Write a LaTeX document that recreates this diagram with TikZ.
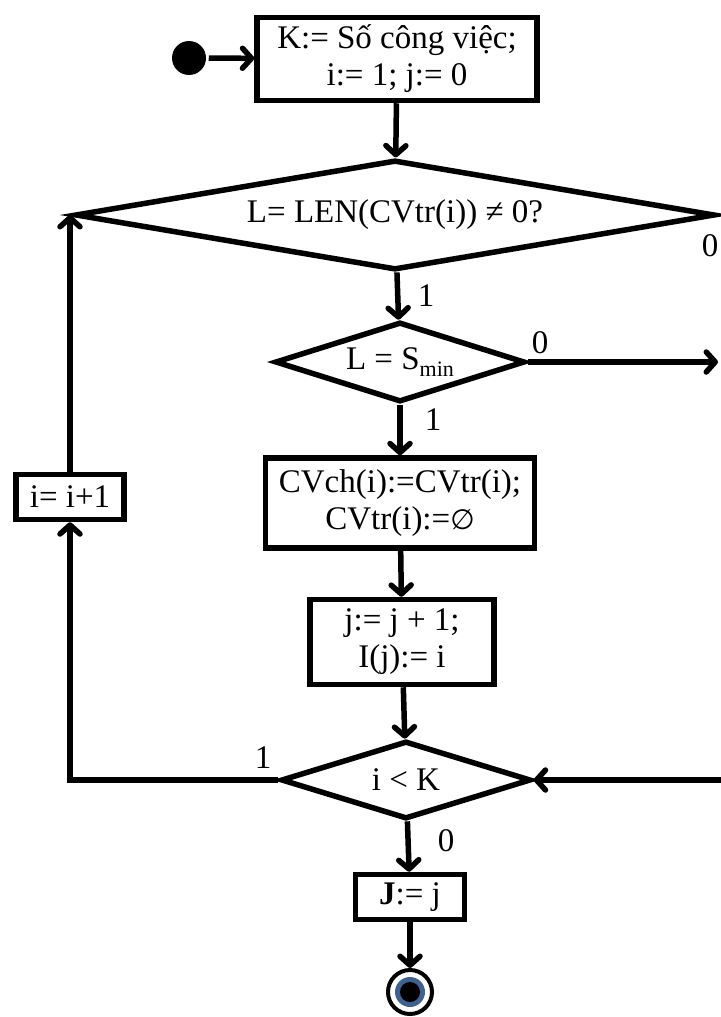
\documentclass[tikz,border=0pt]{standalone}
\usepackage{fontspec}
\setmainfont{Liberation Serif}
\newfontfamily\symfont{DejaVu Sans}
\usetikzlibrary{shapes.geometric,arrows.meta}
\definecolor{endblue}{RGB}{62,96,146}
\begin{document}
\begin{tikzpicture}[
  x=1pt, y=-1pt,
  line width=5.5pt,
  >={Straight Barb[round,length=9pt,width=20pt]},
  every node/.style={font=\fontsize{33}{37}\selectfont},
  box/.style={draw, align=center, inner sep=0pt},
  cond/.style={draw, diamond, inner sep=0pt},
  lbl/.style={inner sep=0pt}
]
\useasboundingbox (0,0) rectangle (720,1017);
\node[circle, fill, minimum size=34pt, inner sep=0pt] (start) at (189,58) {};
\node[box, minimum width=280pt, minimum height=83pt] (init) at (397,59) {K:= Số công việc;\\i:= 1; j:= 0};
\node[cond, aspect=5.8, minimum width=640pt, minimum height=110pt] (len) at (395,215) {L= LEN(CVtr(i)) ≠ 0?};
\node[cond, aspect=3.1, minimum width=250pt, minimum height=80pt] (smin) at (400,362) {L = S\raisebox{-7pt}{\fontsize{22}{22}\selectfont min}};
\node[box, minimum width=269pt, minimum height=90pt] (move) at (400,503) {CVch(i):=CVtr(i);\\CVtr(i):={\symfont\fontsize{28}{37}\selectfont ∅}};
\node[box, minimum width=184pt, minimum height=85pt] (inc) at (402,642) {j:= j + 1;\\I(j):= i};
\node[cond, aspect=3.2, minimum width=250pt, minimum height=78pt] (less) at (406,780) {i < K};
\node[box, minimum width=109pt, minimum height=45pt] (res) at (410,897) {\textbf{J}:= j};
\node[box, minimum width=108pt, minimum height=45pt] (next) at (70,497) {i= i+1};
\node[draw, circle, minimum size=44pt, line width=4pt, inner sep=0pt] (stop) at (410,992) {};
\fill[endblue] (stop.center) circle (15);
\fill (stop.center) circle (10);
\coordinate (out) at (718,362);
\coordinate (in) at (722,780);
\coordinate (turn) at (70,780);
\node[lbl] at (710,246) {0};
\node[lbl] at (540,343) {0};
\node[lbl] at (426,296) {1};
\node[lbl] at (433,420) {1};
\node[lbl] at (263,758) {1};
\node[lbl] at (446,841) {0};
\draw[->] (start) -- (init);
\draw[->] (init) -- (len);
\draw[->] (len) -- (smin);
\draw[->] (smin.east) -- (out);
\draw[->] (smin) -- (move);
\draw[->] (move) -- (inc);
\draw[->] (inc) -- (less);
\draw[->] (less) -- (res);
\draw[->] (res) -- (stop);
\draw[->] (less.west) -- (turn) -- (next);
\draw[->] (next) -- (next |- len.west);
\draw[->] (in) -- (less.east);
\end{tikzpicture}
\end{document}
